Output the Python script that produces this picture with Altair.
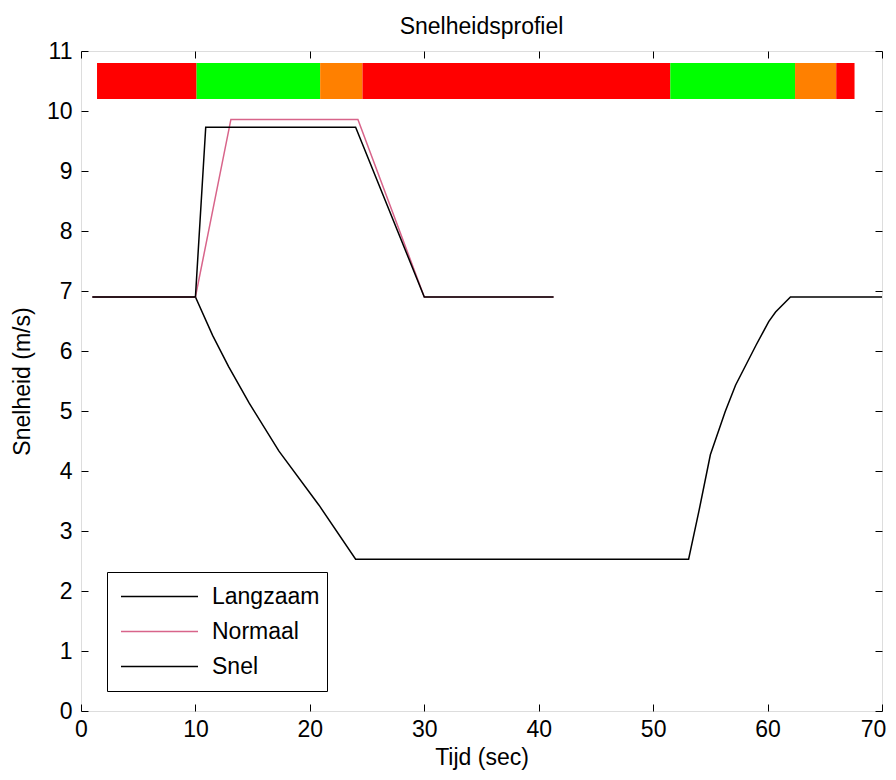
import altair as alt
import pandas as pd

# ---- data ----
seg_start = [1.4, 10.1, 20.9, 24.6, 51.5, 62.4, 66.0]
seg_end = [10.1, 20.9, 24.6, 51.5, 62.4, 66.0, 67.6]
seg_color = ["#ff0000", "#00ff00", "#ff8000", "#ff0000", "#00ff00", "#ff8000", "#ff0000"]
seg_lo = 10.2
seg_hi = 10.8

langzaam_t = [1.0, 10.0, 11.5, 12.9, 14.7, 17.3, 20.8, 24.0, 53.1, 54.0, 55.0, 56.3, 57.2, 59.0, 60.1, 60.7, 62.0, 70.0]
langzaam_v = [6.9, 6.9, 6.26, 5.74, 5.13, 4.33, 3.43, 2.53, 2.53, 3.33, 4.27, 4.99, 5.43, 6.10, 6.49, 6.65, 6.9, 6.9]
normaal_t = [1.0, 10.0, 13.1, 24.2, 30.0, 41.3]
normaal_v = [6.9, 6.9, 9.86, 9.86, 6.9, 6.9]
snel_t = [1.0, 10.0, 10.9, 24.0, 30.0, 41.3]
snel_v = [6.9, 6.9, 9.73, 9.73, 6.9, 6.9]

series_names = ["Langzaam", "Normaal", "Snel"]
series_colors = ["#000000", "#d8648a", "#000000"]

x_ticks = [0, 10, 20, 30, 40, 50, 60, 70]
y_ticks = [0, 1, 2, 3, 4, 5, 6, 7, 8, 9, 10, 11]

# ---- tables ----
seg_df = pd.DataFrame({"start": seg_start, "end": seg_end, "col": seg_color,
                       "lo": [seg_lo] * len(seg_start), "hi": [seg_hi] * len(seg_start)})
rows = []
for name, ts, vs in [("Langzaam", langzaam_t, langzaam_v),
                     ("Normaal", normaal_t, normaal_v),
                     ("Snel", snel_t, snel_v)]:
    for i, (t, v) in enumerate(zip(ts, vs)):
        rows.append({"serie": name, "t": t, "v": v, "i": i})
line_df = pd.DataFrame(rows)

FONT = "Liberation Sans"
FS = 23
TICK = 7

xscale = alt.Scale(domain=[0, 70], nice=False, zero=False)
yscale = alt.Scale(domain=[0, 11], nice=False, zero=False)

def label_axis(orient, title, lp, tp, **extra):
    return alt.Axis(orient=orient, values=(x_ticks if orient in ("bottom", "top") else y_ticks),
                    title=title, ticks=False, tickSize=0, domain=False, grid=False,
                    labelFlush=False, labelFontSize=FS, labelFont=FONT, labelColor="black",
                    labelPadding=lp, titleFontSize=FS, titleFont=FONT, titleColor="black",
                    titleFontWeight="normal", titlePadding=tp, labelOverlap=False, **extra)

def tick_axis(orient):
    return alt.Axis(orient=orient, values=(x_ticks if orient in ("bottom", "top") else y_ticks),
                    title=None, labels=False, ticks=True, tickSize=TICK, tickColor="black",
                    tickWidth=1, domain=False, grid=False, offset=-TICK)

bars = alt.Chart(seg_df).mark_rect().encode(
    x=alt.X("start:Q", scale=xscale,
            axis=label_axis("bottom", "Tijd (sec)", 7, 5,
                            labelOffset={"condition": {"test": f"datum.value == {x_ticks[-1]}",
                                                       "value": -9}, "value": 0})),
    x2="end:Q",
    y=alt.Y("lo:Q", scale=yscale, axis=label_axis("left", "Snelheid (m/s)", 9, 12)),
    y2="hi:Q",
    fill=alt.Fill("col:N", scale=None),
)

lines = alt.Chart(line_df).mark_line(strokeWidth=1.5).encode(
    x=alt.X("t:Q", scale=xscale, axis=tick_axis("bottom")),
    y=alt.Y("v:Q", scale=yscale, axis=tick_axis("left")),
    color=alt.Color("serie:N",
                    scale=alt.Scale(domain=series_names, range=series_colors),
                    sort=series_names,
                    legend=alt.Legend(orient="none", legendX=26, legendY=521, title=None,
                                      symbolType="stroke", symbolSize=5929,
                                      symbolStrokeWidth=1.5, clipHeight=35, rowPadding=0,
                                      padding=7, symbolOffset=6, labelOffset=13,
                                      strokeColor="black", fillColor="white",
                                      labelFontSize=FS, labelFont=FONT, labelColor="black")),
    order="i:Q",
)

frame_ticks = alt.Chart(seg_df).mark_rect(opacity=0).encode(
    x=alt.X("start:Q", scale=xscale, axis=tick_axis("top")),
    x2="end:Q",
    y=alt.Y("lo:Q", scale=yscale, axis=tick_axis("right")),
    y2="hi:Q",
)

chart = alt.layer(bars, lines, frame_ticks).resolve_axis(
    x="independent", y="independent"
).properties(
    width=801, height=660,
    title=alt.TitleParams("Snelheidsprofiel", font=FONT, fontSize=FS,
                          fontWeight="normal", color="black", offset=1),
    autosize=alt.AutoSizeParams(type="none"),
    padding={"left": 73, "top": 43, "right": 6, "bottom": 62},
).configure_view(
    stroke="black", strokeWidth=1, fill="white"
).configure(background="white", font=FONT)

chart.save("out.html", embed_options={"renderer": "svg", "actions": False})
